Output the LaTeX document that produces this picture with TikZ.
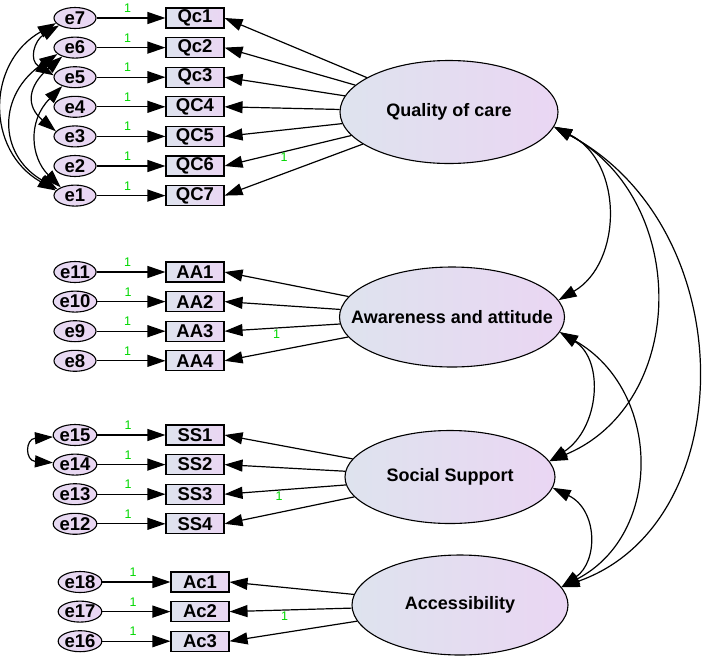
\documentclass[tikz,border=0pt]{standalone}
\usepackage{fontspec}
\setmainfont{Liberation Sans}
\usetikzlibrary{arrows.meta,shapes.geometric}

\definecolor{amosblue}{RGB}{222,227,238}
\definecolor{amoslilac}{RGB}{234,214,243}
\definecolor{amosgreen}{RGB}{0,215,0}

\begin{document}
\begin{tikzpicture}[x=1pt, y=1pt,
  latent/.style={draw, ellipse, line width=1.1pt, left color=amosblue, right color=amoslilac, inner sep=0pt, font=\fontsize{18}{21}\selectfont\bfseries},
  ind/.style={draw, rectangle, line width=1.1pt, left color=amosblue, right color=amoslilac, minimum width=58pt, minimum height=20pt, inner sep=0pt, font=\fontsize{18.5}{20}\selectfont\bfseries},
  err/.style={draw, ellipse, line width=1.1pt, left color=amoslilac!70!amosblue, right color=amoslilac, minimum width=42pt, minimum height=21pt, inner sep=0pt, font=\fontsize{18.5}{20}\selectfont\bfseries},
  load/.style={-{Triangle[length=18pt,width=12pt]}, line width=1.2pt},
  cov/.style={{Triangle[length=18pt,width=12pt]}-{Triangle[length=18pt,width=12pt]}, line width=1.2pt},
  one/.style={text=amosgreen, font=\fontsize{12.5}{13}\selectfont, inner sep=1pt},
]
\def\rowgap{29.6}   % spacing of indicator rows
\useasboundingbox (0,0) rectangle (709,-659);

% latent factors
\node[latent, minimum width=218pt, minimum height=103pt] (qoc) at (449,-112) {Quality of care};
\node[latent, minimum width=225pt, minimum height=100pt, inner xsep=-22pt] (aw) at (452,-317) {Awareness and attitude};
\node[latent, minimum width=210pt, minimum height=93pt] (soc) at (450,-477) {Social Support};
\node[latent, minimum width=216pt, minimum height=100pt] (ac) at (460,-605) {Accessibility};

% indicators with their error terms
\foreach \lab/\num [count=\i from 0] in {Qc1/7,Qc2/6,Qc3/5,QC4/4,QC5/3,QC6/2,QC7/1} {
  \node[err] (e\num) at (75,{-18-\i*\rowgap}) {e\num};
  \node[ind] (\lab) at (195,{-18-\i*\rowgap}) {\lab};
  \draw[load] (e\num) -- node[one, pos=.45, above=4pt] {1} (\lab);
}
\foreach \lab/\num [count=\i from 0] in {AA1/11,AA2/10,AA3/9,AA4/8} {
  \node[err] (e\num) at (75,{-272-\i*\rowgap}) {e\num};
  \node[ind] (\lab) at (195,{-272-\i*\rowgap}) {\lab};
  \draw[load] (e\num) -- node[one, pos=.45, above=4pt] {1} (\lab);
}
\foreach \lab/\num [count=\i from 0] in {SS1/15,SS2/14,SS3/13,SS4/12} {
  \node[err] (e\num) at (75,{-435-\i*\rowgap}) {e\num};
  \node[ind] (\lab) at (195,{-435-\i*\rowgap}) {\lab};
  \draw[load] (e\num) -- node[one, pos=.45, above=4pt] {1} (\lab);
}
\foreach \lab/\num [count=\i from 0] in {Ac1/18,Ac2/17,Ac3/16} {
  \node[err] (e\num) at (80,{-582-\i*\rowgap}) {e\num};
  \node[ind] (\lab) at (200,{-582-\i*\rowgap}) {\lab};
  \draw[load] (e\num) -- node[one, pos=.45, above=4pt] {1} (\lab);
}

% loadings
\foreach \lab in {Qc1,Qc2,Qc3,QC4,QC5,QC7} \draw[load] (qoc) -- (\lab.east);
\draw[load] (qoc) -- node[one, pos=.53, below] {1} (QC6.east);
\foreach \lab in {AA1,AA2,AA4} \draw[load] (aw) -- (\lab.east);
\draw[load] (aw) -- node[one, pos=.55, below] {1} (AA3.east);
\foreach \lab in {SS1,SS2,SS4} \draw[load] (soc) -- (\lab.east);
\draw[load] (soc) -- node[one, pos=.55, below] {1} (SS3.east);
\foreach \lab in {Ac1,Ac3} \draw[load] (ac) -- (\lab.east);
\draw[load] (ac) -- node[one, pos=.55, below] {1} (Ac2.east);

% error covariances
\draw[cov] (e7.195) .. controls +(-70,-40) and +(-70,40) .. (e1.165);
\draw[cov] (e6.200) .. controls +(-60,-40) and +(-60,35) .. (e1.160);
\draw[cov] (e6.215) .. controls +(-35,-30) and +(-30,25) .. (e3.165);
\draw[cov] (e5.215) .. controls +(-35,-35) and +(-30,30) .. (e1.150);
\draw[cov] (e7.205) .. controls +(-25,-15) and +(-25,15) .. (e5.175);
\draw[cov] (e15.185) .. controls +(-28,-2) and +(-28,2) .. (e14.175);

% factor covariances
\draw[cov] (qoc.-8) .. controls +(70,-35) and +(64,37) .. (aw.9);
\draw[cov] (qoc.-8) .. controls +(136,-73) and +(139,58) .. (soc.9);
\draw[cov] (qoc.-8) .. controls +(190,-102) and +(180,63) .. (ac.10);
\draw[cov] (aw.-8) .. controls +(45,-28) and +(50,33) .. (soc.9);
\draw[cov] (aw.-8) .. controls +(102,-58) and +(102,53) .. (ac.10);
\draw[cov] (soc.-6) .. controls +(45,-22) and +(37,26) .. (ac.10);
\end{tikzpicture}
\end{document}
